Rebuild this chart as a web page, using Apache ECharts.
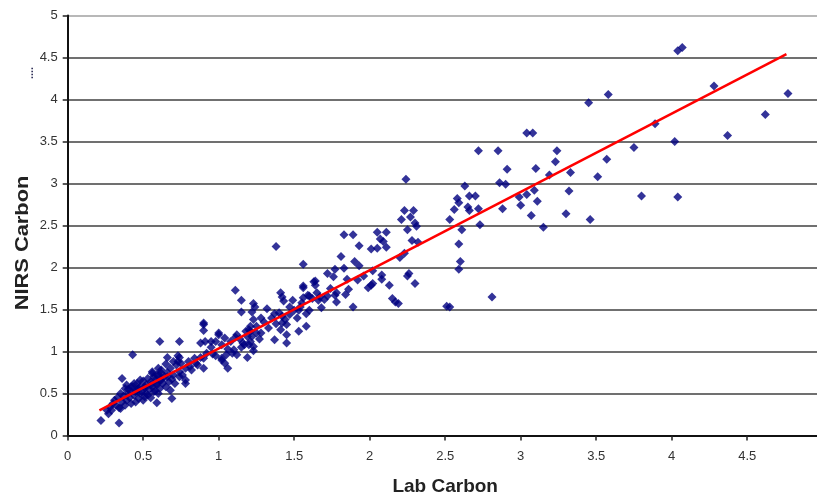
<!DOCTYPE html>
<html>
<head>
<meta charset="utf-8">
<script src="https://cdn.jsdelivr.net/npm/echarts@6/dist/echarts.min.js"></script>
<style>
html,body{margin:0;padding:0;background:#fff;}
#chart{width:817px;height:497px;}
</style>
</head>
<body>
<div id="chart"></div>
<script>
// ---- data (Lab Carbon, NIRS Carbon) ----
const xAxisTitle = 'Lab Carbon';
const yAxisTitle = 'NIRS Carbon';
const xTicks = [0, 0.5, 1, 1.5, 2, 2.5, 3, 3.5, 4, 4.5];
const yTicks = [0, 0.5, 1, 1.5, 2, 2.5, 3, 3.5, 4, 4.5, 5];

const pointsHigh = [
  [4.04,4.58],[4.07,4.62],[4.28,4.16],[4.77,4.07],[3.89,3.71],[4.62,3.82],[3.75,3.43],[4.02,3.50],[4.37,3.57],
  [3.80,2.85],[4.04,2.84],[3.45,3.96],[3.58,4.06],[3.04,3.60],[3.08,3.60],[2.72,3.39],[2.85,3.39],[3.24,3.39],
  [3.23,3.26],[3.57,3.29],[2.91,3.17],[3.10,3.18],[3.19,3.10],[3.33,3.13],[3.51,3.08],[2.86,3.01],[2.90,2.99],
  [2.63,2.97],[3.09,2.92],[3.32,2.91],[3.04,2.87],[2.99,2.84],[2.66,2.85],[2.70,2.85],[2.58,2.82],[2.59,2.77],
  [3.11,2.79],[3.00,2.74],[2.56,2.69],[2.65,2.72],[2.66,2.68],[2.72,2.70],[2.88,2.70],[3.07,2.62],[3.30,2.64],
  [3.46,2.57],[2.73,2.51],[3.15,2.48],[2.61,2.45],[2.53,2.57],[2.59,2.28],[2.60,2.07],[2.59,1.98],[2.81,1.65],
  [2.53,1.53]
];
const pointsMid = [
  [2.24,3.05],[2.23,2.68],[2.29,2.68],[2.21,2.57],[2.27,2.60],[2.30,2.53],[2.31,2.49],[2.25,2.45],[1.83,2.39],
  [1.89,2.39],[2.05,2.42],[2.11,2.42],[2.07,2.34],[2.09,2.31],[2.11,2.24],[2.28,2.32],[2.32,2.30],[1.93,2.26],
  [2.01,2.22],[2.05,2.23],[2.20,2.12],[2.23,2.17],[1.81,2.13],[1.90,2.07],[1.93,2.02],[1.83,1.99],[1.77,1.98],
  [1.72,1.93],[1.76,1.89],[2.02,1.96],[2.08,1.91],[2.08,1.86],[2.26,1.93],[2.25,1.90],[1.85,1.86],[2.02,1.81],
  [2.01,1.79],[1.99,1.76],[2.13,1.79],[2.30,1.81],[1.72,1.66],[1.77,1.67],[1.84,1.68],[1.78,1.59],[2.15,1.63],
  [2.17,1.59],[2.19,1.57],[1.89,1.53],[2.51,1.54],[1.67,1.65],[1.56,2.04],[1.64,1.84],[1.56,1.78],[1.63,1.83],
  [1.64,1.79],[1.56,1.76],[1.59,1.67],[1.62,1.63],[1.56,1.64],[1.66,1.61],[1.68,1.52],[1.60,1.49],[1.58,1.45],
  [1.58,1.30],[1.53,1.24],[1.54,1.53],[1.50,1.49],[1.53,1.49],[1.70,1.62],[1.74,1.75],[1.78,1.70],[1.86,1.74],
  [1.92,1.85],[1.96,1.90],[1.55,1.58],[1.52,1.40],[1.60,1.66],[1.65,1.70]
];
const pointsLow = [
  [1.38,2.25],[1.11,1.73],[1.15,1.61],[1.41,1.70],[1.42,1.65],[1.49,1.61],[1.43,1.60],[1.23,1.57],[1.22,1.47],
  [1.15,1.47],[1.32,1.51],[1.24,1.53],[1.47,1.53],[1.37,1.45],[1.23,1.38],[1.28,1.40],[1.42,1.42],[1.42,1.34],
  [1.45,1.32],[1.41,1.26],[0.90,1.34],[0.90,1.25],[1.00,1.22],[1.04,1.16],[1.11,1.17],[1.20,1.26],[1.19,1.18],
  [1.25,1.22],[1.27,1.15],[1.21,1.12],[1.37,1.14],[1.45,1.20],[1.45,1.10],[0.91,1.12],[0.95,1.12],[0.98,1.12],
  [1.16,1.10],[1.15,1.05],[1.23,1.06],[1.23,1.01],[1.06,1.03],[1.09,0.98],[0.96,0.97],[0.90,0.92],[1.19,0.93],
  [1.02,0.90],[1.04,0.86],[1.06,0.80],[0.90,0.80],[0.88,1.10],[0.90,1.32],[1.00,1.20],[1.21,1.30],[1.20,1.08],
  [1.12,0.96],[1.02,0.92],[1.21,1.24],[0.92,0.98],[0.95,1.05],[0.98,0.95],[1.02,1.08],[1.05,0.96],[1.08,1.12],
  [1.10,1.02],[1.12,1.20],[1.14,1.15],[1.17,1.08],[1.18,1.24],[1.22,1.18],[1.25,1.30],[1.28,1.22],[1.30,1.35],
  [1.33,1.28],[1.35,1.40],[1.38,1.33],[1.40,1.46],[1.44,1.38],[1.47,1.44]
];
const pointsCluster = [
  [0.61,1.12],[0.74,1.12],[0.43,0.96],[0.66,0.93],[0.74,0.93],[0.73,0.88],[0.88,0.93],[0.85,0.86],[0.81,0.82],
  [0.36,0.68],[0.56,0.74],[0.59,0.72],[0.62,0.74],[0.66,0.70],[0.69,0.67],[0.74,0.70],[0.78,0.66],[0.78,0.62],
  [0.68,0.54],[0.69,0.44],[0.59,0.39],[0.39,0.60],[0.42,0.58],[0.45,0.52],[0.47,0.56],[0.51,0.58],[0.55,0.60],
  [0.59,0.62],[0.61,0.66],[0.48,0.50],[0.51,0.46],[0.53,0.48],[0.57,0.52],[0.60,0.50],[0.39,0.42],[0.42,0.38],
  [0.32,0.36],[0.29,0.30],[0.35,0.32],[0.27,0.26],[0.22,0.18],[0.34,0.15],
  [0.30,0.38],[0.31,0.42],[0.33,0.45],[0.34,0.33],[0.36,0.40],[0.37,0.47],[0.38,0.36],[0.40,0.50],[0.40,0.55],
  [0.41,0.45],[0.42,0.52],[0.43,0.58],[0.44,0.48],[0.45,0.40],[0.46,0.55],[0.46,0.62],[0.47,0.44],[0.48,0.58],
  [0.49,0.52],[0.50,0.65],[0.50,0.42],[0.51,0.56],[0.52,0.60],[0.52,0.50],[0.53,0.68],[0.54,0.55],[0.55,0.45],
  [0.55,0.64],[0.56,0.58],[0.57,0.70],[0.58,0.53],[0.58,0.66],[0.59,0.60],[0.60,0.72],[0.61,0.56],[0.62,0.66],
  [0.62,0.78],[0.63,0.62],[0.64,0.70],[0.65,0.58],[0.66,0.75],[0.67,0.64],[0.68,0.80],[0.70,0.72],[0.71,0.62],
  [0.72,0.84],[0.74,0.76],[0.75,0.86],[0.76,0.72],[0.78,0.80],[0.80,0.88],[0.82,0.78],[0.84,0.92],[0.86,0.84],
  [0.70,0.88],[0.73,0.95],[0.65,0.85],[0.60,0.80],[0.56,0.76],[0.48,0.66],[0.44,0.62],[0.38,0.56],[0.35,0.50],
  [0.28,0.34],[0.26,0.30]
];
const trendX = [0.21, 4.76];
const trendY = [0.30, 4.54];

// ---- chart ----
const allPoints = [].concat(pointsHigh, pointsMid, pointsLow, pointsCluster);
const trendData = trendX.map((x, i) => [x, trendY[i]]);
const FONT = 'Liberation Sans, Arial, sans-serif';
const gridColors = yTicks.map((v, i) => i === yTicks.length - 1 ? '#a0a0a0' : '#404040');

const chart = echarts.init(document.getElementById('chart'), null, {renderer: 'canvas'});
chart.setOption({
  animation: false,
  backgroundColor: '#ffffff',
  grid: {left: 67.7, top: 15.5, width: 755, height: 420, containLabel: false, outerBoundsMode: 'none'},
  xAxis: {
    type: 'value', min: 0, max: 5, interval: 0.5,
    name: xAxisTitle, nameLocation: 'middle', nameGap: 42,
    nameTextStyle: {fontFamily: FONT, fontWeight: 'bold', fontSize: 19, color: '#222'},
    axisLine: {show: true, onZero: false, lineStyle: {color: '#111', width: 2}},
    axisTick: {show: true, inside: false, length: 5, lineStyle: {color: '#222', width: 1.5}},
    axisLabel: {
      margin: 14, fontFamily: FONT, fontSize: 13, color: '#333',
      formatter: v => (xTicks.indexOf(v) >= 0 ? String(v) : '')
    },
    splitLine: {show: false}
  },
  yAxis: {
    type: 'value', min: 0, max: 5, interval: 0.5,
    axisLine: {show: true, onZero: false, lineStyle: {color: '#111', width: 2}},
    axisTick: {show: true, inside: false, length: 5, lineStyle: {color: '#222', width: 1.5}},
    axisLabel: {
      margin: 10, fontFamily: FONT, fontSize: 13, color: '#333',
      formatter: v => (yTicks.indexOf(v) >= 0 ? String(v) : '')
    },
    splitLine: {show: true, lineStyle: {color: gridColors, width: 1.6}}
  },
  graphic: [
    {
      type: 'text', x: 23, y: 243, rotation: Math.PI / 2, scaleX: 1.15,
      style: {text: yAxisTitle, font: 'bold 19px ' + FONT, fill: '#222', align: 'center', verticalAlign: 'middle'}
    },
    {
      type: 'text', x: 30, y: 73, rotation: Math.PI / 2,
      style: {text: '....', font: 'bold 11px ' + FONT, fill: '#33335a', align: 'center', verticalAlign: 'middle'}
    }
  ],
  series: [
    {
      type: 'scatter', name: 'samples', data: allPoints,
      symbol: 'diamond', symbolSize: 9,
      itemStyle: {color: '#000080'}
    },
    {
      type: 'line', name: 'trend', data: trendData,
      symbol: 'none', lineStyle: {color: '#ff0000', width: 2.5}
    }
  ]
});
</script>
</body>
</html>
